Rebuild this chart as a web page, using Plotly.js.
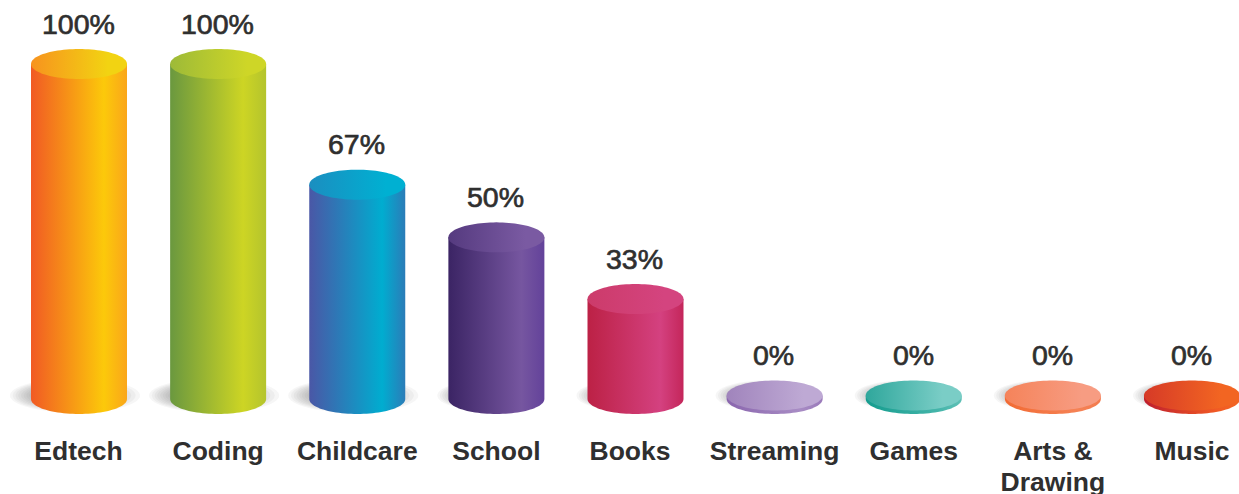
<!DOCTYPE html>
<html>
<head>
<meta charset="utf-8">
<script src="https://cdn.plot.ly/plotly-3.0.1.min.js"></script>
<style>
html,body{margin:0;padding:0;background:#fff;overflow:hidden}
#chart{width:1239px;height:494px}
.annotation-text{stroke:#2f2f2f;stroke-width:.7px}
</style>
</head>
<body>
<div id="chart"></div>
<script>
// ---- data ----
const categories = ["Edtech","Coding","Childcare","School","Books","Streaming","Games","Arts &<br>Drawing","Music"];
const percentLabels = ["100%","100%","67%","50%","33%","0%","0%","0%","0%"];
// drawn heights as measured on the picture (share of the tallest cylinder)
const drawnHeights = [100,100,63.6,47.7,29.1,0,0,0,0];

// ---- colours ----
const bodyLeft  = ["#F15A24","#6A983F","#4A57A6","#3B2464","#BC2145","#8A66AE","#149C8E","#F26A33","#BE1E2D"];
const bodyMid   = ["#FCC90A","#CDD524","#00ADD0","#7656A0","#D44180","#A88CC4","#45B5AA","#F58255","#F15A24"];
const bodyRight = ["#FAA61A","#B4C42D","#2B7CB8","#63429A","#C4265A","#9A7ABA","#5FC0B6","#F37B4E","#F26522"];
const topLeft   = ["#F7931E","#9DBA38","#1B8EC0","#553A7F","#CC3B6A","#A084BC","#2FA79C","#F5835A","#D63A27"];
const topRight  = ["#F2D312","#CED627","#00B0D2","#7A5AA2","#D4447F","#BEA9D4","#7ACDC6","#F79C82","#F26522"];
const textColor = "#2f2f2f";

// ---- geometry of the picture (px) ----
const W = 1239, H = 494, axisPx = 432;
const stepPx = 139.125, firstPx = 79, radiusX = 48, radiusY = 15;
const zeroPx = 395.5, pxPerUnit = 3.315, footPx = 3.5;
const labelNudgePx = [-0.5,0,0,0,-5.5,0,0,0,0];
const secondLinePx = 31, tickSize = 26.5;

const xr = radiusX / stepPx, yr = radiusY / pxPerUnit, foot = footPx / pxPerUnit;
const positions = categories.map((_, i) => i);

function arc(cx, cy, from, to, n, rx, ry) {
  const xs = [], ys = [];
  for (let k = 0; k <= n; k++) {
    const t = from + (to - from) * k / n;
    xs.push(cx + rx * Math.cos(t));
    ys.push(cy + ry * Math.sin(t));
  }
  return [xs, ys];
}

const traces = [];

// plain bar underneath carries the values through the axes
traces.push({
  type: "bar", x: positions, y: drawnHeights, width: xr * 2 - 0.01,
  marker: {color: bodyMid, line: {width: 0}}, hoverinfo: "skip", showlegend: false
});

categories.forEach((c, i) => {
  const h = drawnHeights[i];
  const [bx, by] = arc(i, -foot, Math.PI, 2 * Math.PI, 48, xr, yr);
  traces.push({
    type: "scatter", mode: "none", fill: "toself", hoverinfo: "skip", showlegend: false,
    x: [i - xr, ...bx.slice(0), i + xr, i - xr],
    y: [h, ...by, h, h],
    line: {width: 0},
    fillgradient: {type: "horizontal", start: i - xr, stop: i + xr,
      colorscale: [[0, bodyLeft[i]], [0.76, bodyMid[i]], [1, bodyRight[i]]]}
  });
  const [tx, ty] = arc(i, h, 0, 2 * Math.PI, 96, xr, yr);
  traces.push({
    type: "scatter", mode: "none", fill: "toself", hoverinfo: "skip", showlegend: false,
    x: tx, y: ty, line: {width: 0},
    fillgradient: {type: "horizontal", start: i - xr, stop: i + xr,
      colorscale: [[0, topLeft[i]], [0.8, topRight[i]], [1, topRight[i]]]}
  });
});

// soft floor shadows
const shapes = [];
function ellipsePath(cx, cy, rx, ry) {
  const [xs, ys] = arc(cx, cy, 0, 2 * Math.PI, 64, rx, ry);
  return "M" + xs.map((x, k) => x.toFixed(4) + "," + ys[k].toFixed(3)).join("L") + "Z";
}
const layers = 12;
categories.forEach((c, i) => {
  const tall = drawnHeights[i] > 55;
  const reach = tall ? 65 : 49;           // px half-width of outer shadow
  const centre = tall ? -4 : -10;         // px shift of outer shadow
  const reachY = tall ? 17 : 15;
  for (let k = 0; k < layers; k++) {
    const f = 1 - k / layers;
    shapes.push({
      type: "path", xref: "x", yref: "y", layer: "below", line: {width: 0},
      fillcolor: "rgba(70,70,70,0.05)",
      path: ellipsePath(i + (centre * f + (tall ? -14 : -8) * (1 - f)) / stepPx,
                        0, (reach * f + 22 * (1 - f)) / stepPx,
                        (reachY * f + 6 * (1 - f)) / pxPerUnit)
    });
  }
});

const annotations = categories.map((c, i) => ({
  x: i, y: drawnHeights[i], xref: "x", yref: "y", yshift: 40.5, xshift: -0.7, yanchor: "middle", xanchor: "center",
  text: percentLabels[i], showarrow: false,
  font: {family: "Liberation Sans", size: 28.5, color: textColor}
}));

const layout = {
  width: W, height: H,
  margin: {l: 0, r: 0, t: 0, b: H - axisPx, pad: 0},
  paper_bgcolor: "#fff", plot_bgcolor: "rgba(0,0,0,0)",
  showlegend: false, bargap: 0, hovermode: false,
  xaxis: {
    type: "linear", range: [-firstPx / stepPx, (W - firstPx) / stepPx],
    tickmode: "array", tickvals: positions.map((p, i) => p + labelNudgePx[i] / stepPx),
    ticktext: categories, tickangle: 0,
    showgrid: false, zeroline: false, showline: false, ticks: "",
    tickfont: {family: "Liberation Sans", size: tickSize, color: textColor, weight: 700},
    fixedrange: true, automargin: false
  },
  yaxis: {
    range: [(zeroPx - axisPx) / pxPerUnit, zeroPx / pxPerUnit],
    showgrid: false, zeroline: false, showline: false, showticklabels: false, ticks: "",
    fixedrange: true, automargin: false
  },
  shapes, annotations
};

Plotly.newPlot("chart", traces, layout, {displayModeBar: false, staticPlot: true}).then(() => {
  // tighten the two-line tick label to the reference's leading
  document.querySelectorAll(".xtick text tspan.line").forEach(line => {
    if (parseFloat(line.getAttribute("dy")) > 0) {
      line.setAttribute("dy", (secondLinePx / tickSize) + "em");
    }
  });
});
</script>
</body>
</html>
